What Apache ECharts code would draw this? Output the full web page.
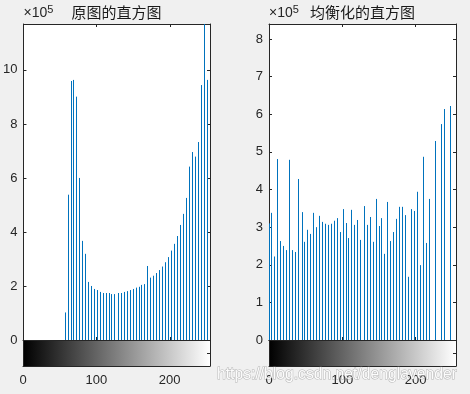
<!DOCTYPE html>
<html>
<head>
<meta charset="utf-8">
<title>直方图</title>
<script src="https://cdn.jsdelivr.net/npm/echarts@6/dist/echarts.min.js"></script>
</head>
<body style="margin:0;background:#f0f0f0;">
<div id="main" style="width:470px;height:394px;"></div>
<script>
// 原图的直方图 (计数, 单位 x10^5)
var origLevels = [57, 61, 65, 69, 73, 77, 81, 85, 89, 93, 97, 101, 105, 109, 113, 117, 121, 125,
	130, 134, 138, 142, 146, 150, 154, 158, 162, 166, 170, 174, 178, 182, 186, 190, 194, 198,
	202, 206, 210, 215, 219, 223, 227, 231, 235, 239, 243, 247, 251];
var origCounts = [1.02, 5.38, 9.59, 9.63, 9.01, 6.0, 3.67, 3.19, 2.15, 2.0, 1.89, 1.85, 1.78, 1.74, 1.74, 1.74, 1.70, 1.70,
	1.74, 1.74, 1.78, 1.81, 1.85, 1.89, 1.94, 1.97, 2.04, 2.07, 2.74, 2.31, 2.38, 2.48, 2.59, 2.72, 2.88, 3.07,
	3.31, 3.56, 3.85, 4.26, 4.67, 5.26, 6.42, 6.96, 6.79, 7.33, 9.44, 12.5, 9.63];

// 均衡化的直方图 (计数, 单位 x10^5)
var eqLevels = [0, 4, 8, 12, 16, 20, 24, 28, 32, 36, 40, 45, 49, 53, 57, 61, 65, 69, 73, 77, 81, 85, 89, 93,
	97, 101, 105, 109, 113, 117, 121, 125, 130, 134, 138, 142, 146, 150, 154, 158, 162, 166, 170, 174,
	178, 182, 186, 190, 194, 198, 202, 206, 210, 215, 219, 227, 235, 239, 247, 255];
var eqCounts = [3.10, 3.38, 2.22, 4.81, 2.63, 2.50, 2.39, 4.79, 2.39, 2.34, 4.28, 3.40, 2.61, 2.93, 2.82, 3.38, 3.0, 3.30, 3.14, 3.09, 3.06, 3.09, 3.17, 3.24,
	2.87, 3.48, 3.11, 2.71, 3.46, 3.06, 3.19, 2.66, 3.56, 3.06, 3.27, 2.61, 3.75, 3.03, 3.24, 2.29, 3.67, 2.63, 2.87, 3.22,
	3.54, 3.54, 3.32, 1.68, 3.48, 3.43, 3.94, 1.99, 4.87, 2.58, 3.75, 5.29, 5.74, 6.14, 6.22, 3.48];

var titles = ['原图的直方图', '均衡化的直方图'];
var xTickStep = 100;
var yMax = [11.7, 8.4];
var yStep = [2, 1];

var axisColor = '#262626';
var barColor = '#0072BD';
var numFont = '"Liberation Sans", Arial, sans-serif';

function pairs(xs, ys) {
	return xs.map(function (x, i) { return [x, ys[i]]; });
}

// 竖线(stem)，x 取整到像素中心，线条清晰
function stemItem(params, api) {
	var top = api.coord([api.value(0), api.value(1)]);
	var base = api.coord([api.value(0), 0]);
	var x = Math.round(top[0] - 0.5) + 0.5;
	return {
		type: 'line',
		shape: {x1: x, y1: base[1], x2: x, y2: top[1]},
		style: {stroke: barColor, lineWidth: 1}
	};
}

var panelLeft = [23, 269];
var grids = [], xAxes = [], yAxes = [], series = [], graphics = [];

[0, 1].forEach(function (p) {
	var gray = new echarts.graphic.LinearGradient(0, 0, 1, 0, [
		{offset: 0, color: '#000000'}, {offset: 1, color: '#ffffff'}
	]);
	grids.push({left: panelLeft[p], top: 24, width: 187, height: 316, show: true, backgroundColor: '#ffffff', borderWidth: 0});
	grids.push({left: panelLeft[p], top: 340, width: 187, height: 26, show: true, backgroundColor: gray, borderWidth: 0});

	var hx = {
		type: 'value', min: 0, max: 255, interval: xTickStep,
		axisLine: {show: true, onZero: false, lineStyle: {color: axisColor, width: 1}},
		axisTick: {show: true, inside: true, length: 3, lineStyle: {color: axisColor}},
		axisLabel: {show: false},
		splitLine: {show: false}
	};
	xAxes.push(Object.assign({}, hx, {gridIndex: 2 * p, position: 'bottom'}));
	xAxes.push(Object.assign({}, hx, {gridIndex: 2 * p, position: 'top'}));
	xAxes.push(Object.assign({}, hx, {
		gridIndex: 2 * p + 1, position: 'bottom',
		axisTick: {show: false},
		axisLabel: {
			show: true, margin: 8, color: axisColor, fontSize: 13, fontFamily: numFont,
			formatter: function (v) { return v % xTickStep === 0 ? v : ''; }
		}
	}));
	xAxes.push(Object.assign({}, hx, {gridIndex: 2 * p + 1, position: 'top', axisTick: {show: false}}));

	var hy = {
		type: 'value', min: 0, max: yMax[p], interval: yStep[p],
		axisLine: {show: true, onZero: false, lineStyle: {color: axisColor, width: 1}},
		axisTick: {show: true, inside: true, length: 3, lineStyle: {color: axisColor}},
		axisLabel: {show: false},
		splitLine: {show: false}
	};
	yAxes.push(Object.assign({}, hy, {
		gridIndex: 2 * p, position: 'left',
		axisLabel: {
			show: true, margin: 6, color: axisColor, fontSize: 13, fontFamily: numFont,
			formatter: function (v) { return v % yStep[p] === 0 ? v : ''; }
		},
		name: '×10{s|5}',
		nameLocation: 'end',
		nameGap: 2,
		nameTextStyle: {
			color: axisColor, fontSize: 14, fontFamily: numFont, align: 'left', verticalAlign: 'bottom',
			rich: {s: {fontSize: 11, fontFamily: numFont, color: axisColor, padding: [0, 0, 7, 0]}}
		}
	}));
	yAxes.push(Object.assign({}, hy, {gridIndex: 2 * p, position: 'right'}));
	yAxes.push(Object.assign({}, hy, {gridIndex: 2 * p + 1, position: 'left', min: 0, max: 1, interval: 1, axisTick: {show: false}}));
	yAxes.push(Object.assign({}, hy, {gridIndex: 2 * p + 1, position: 'right', min: 0, max: 1, interval: 0.5}));

	graphics.push({
		type: 'text',
		x: panelLeft[p] + 93.5, y: 12,
		style: {
			text: titles[p], font: '15px "Noto Sans CJK SC"', fill: '#1a1a1a',
			align: 'center', verticalAlign: 'middle'
		}
	});
});

series.push({
	type: 'custom', xAxisIndex: 0, yAxisIndex: 0, clip: true,
	renderItem: stemItem, data: pairs(origLevels, origCounts)
});
series.push({
	type: 'custom', xAxisIndex: 4, yAxisIndex: 4, clip: true,
	renderItem: stemItem, data: pairs(eqLevels, eqCounts)
});

// 水印
graphics.push({
	type: 'text', x: 217, y: 375, z: 100,
	style: {
		text: 'https://blog.csdn.net/denglavender', font: '15.7px "Liberation Sans", Arial, sans-serif',
		fill: 'rgba(255,255,255,0.95)', stroke: 'rgba(130,130,130,0.55)', lineWidth: 1,
		align: 'left', verticalAlign: 'middle'
	}
});

var chart = echarts.init(document.getElementById('main'));
chart.setOption({
	animation: false,
	backgroundColor: '#f0f0f0',
	grid: grids,
	xAxis: xAxes,
	yAxis: yAxes,
	series: series,
	graphic: graphics
});
</script>
</body>
</html>
